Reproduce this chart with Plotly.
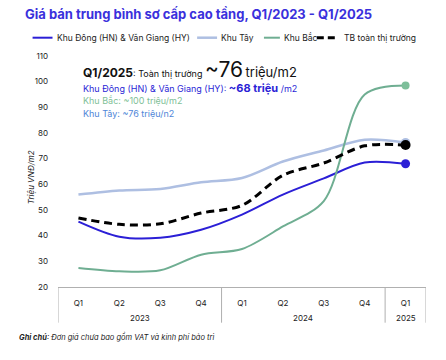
import plotly.graph_objects as go

years = ["2023"] * 4 + ["2024"] * 4 + ["2025"]
quarters = ["Q1", "Q2", "Q3", "Q4", "Q1", "Q2", "Q3", "Q4", "Q1"]
periods = [f"{q}/{y}" for q, y in zip(quarters, years)]

khu_dong = [45.5, 39.6, 39.2, 42.3, 48.2, 56.0, 62.3, 68.5, 68.0]
khu_tay = [56.0, 57.6, 58.2, 60.8, 62.5, 68.9, 73.2, 77.4, 76.3]
khu_bac = [27.4, 26.1, 26.5, 32.6, 34.8, 43.6, 53.5, 95.0, 98.5]
tb_toan = [46.9, 44.4, 44.6, 48.8, 51.8, 63.5, 68.3, 75.0, 75.3]

series = [
    ("Khu Đông (HN) & Văn Giang (HY)", khu_dong, "#2b1fd6", 2, "solid"),
    ("Khu Tây", khu_tay, "#aebfe2", 2.5, "solid"),
    ("Khu Bắc", khu_bac, "#6fae92", 2, "solid"),
    ("TB toàn thị trường", tb_toan, "#000000", 3, "8px,5px"),
]

FONT = "Inter"
W, H = 446, 360
L, R, T, B = 57.5, 426.5, 56.3, 287.3

def px(x):
    return (x - L) / (R - L)

def py(y):
    return (B - y) / (B - T)

fig = go.Figure()
for name, vals, color, width, dash in series:
    fig.add_trace(go.Scatter(
        x=periods, y=vals, mode="lines", name=name, showlegend=False,
        line=dict(color=color, width=width, dash=dash, shape="spline", smoothing=0.9),
    ))
marker_colors = ["#2b1fd6", "#aebfe2", "#7dbf9a", "#000000"]
marker_sizes = [9, 9, 8, 10]
for (name, vals, color, width, dash), mc, ms in zip(series, marker_colors, marker_sizes):
    fig.add_trace(go.Scatter(
        x=[periods[-1]], y=[vals[-1]], mode="markers",
        marker=dict(color=mc, size=ms), showlegend=False, hoverinfo="skip",
    ))

anns = []
shapes = []

# manual legend
legend_items = [
    (32, 52, 54, series[0][0], "#2b1fd6", 2, "solid"),
    (197, 217, 219, series[1][0], "#aebfe2", 2.5, "solid"),
    (264, 280, 282, series[2][0], "#6fae92", 2, "solid"),
    (317, 337, 342, series[3][0], "#000000", 3, "7px,4px"),
]
for x0, x1, tx, label, color, width, dash in legend_items:
    shapes.append(dict(type="line", xref="paper", yref="paper",
                       x0=px(x0), x1=px(x1), y0=py(38), y1=py(38),
                       line=dict(color=color, width=width, dash=dash)))
    anns.append(dict(x=px(tx), y=py(38), xref="paper", yref="paper",
                     xanchor="left", yanchor="middle", showarrow=False,
                     font=dict(family=FONT, size=8.5, color="#222222"),
                     text=label.replace("&", "&amp;")))

# category table: group dividers and year labels
groups = []
for i, yr in enumerate(years):
    if not groups or groups[-1][0] != yr:
        groups.append([yr, i, i])
    else:
        groups[-1][2] = i
bounds = sorted({g[1] - 0.5 for g in groups} | {g[2] + 0.5 for g in groups})
for b in bounds:
    shapes.append(dict(type="line", xref="x", yref="paper",
                       x0=b, x1=b, y0=py(288), y1=py(323),
                       line=dict(color="#b0b0b0", width=1)))
for yr, i0, i1 in groups:
    anns.append(dict(x=(i0 + i1) / 2, y=py(318.5), xref="x", yref="paper",
                     xanchor="center", yanchor="middle", showarrow=False,
                     font=dict(family=FONT, size=8, color="#222222"), text=yr))

anns.append(dict(
    x=px(81), y=py(70), xref="paper", yref="paper", xanchor="left", yanchor="middle",
    showarrow=False, font=dict(family=FONT, color="#111111", size=9),
    text="<b><span style='font-size:12px'>Q1/2025</span></b>: Toàn thị trường "
         "<span style='font-size:21px'>~76</span> <span style='font-size:13px'>triệu/m2</span>",
))
anns.append(dict(
    x=px(81), y=py(88), xref="paper", yref="paper", xanchor="left", yanchor="middle",
    showarrow=False, font=dict(family=FONT, color="#2b1fd6", size=9),
    text="Khu Đông (HN) &amp; Văn Giang (HY): <b><span style='font-size:11px'>~68 triệu</span></b> /m2",
))
anns.append(dict(
    x=px(81), y=py(101), xref="paper", yref="paper", xanchor="left", yanchor="middle",
    showarrow=False, font=dict(family=FONT, color="#7fbf98", size=9),
    text="Khu Bắc: ~100 triệu/m2",
))
anns.append(dict(
    x=px(81), y=py(114), xref="paper", yref="paper", xanchor="left", yanchor="middle",
    showarrow=False, font=dict(family=FONT, color="#4f86d8", size=9),
    text="Khu Tây: ~76 triệu/n2",
))
anns.append(dict(
    x=px(30), y=py(178), xref="paper", yref="paper", xanchor="center", yanchor="middle",
    showarrow=False, textangle=-90, font=dict(family=FONT, color="#222222", size=8),
    text="<i>Triệu VNĐ/m2</i>",
))
anns.append(dict(
    x=px(16), y=py(337), xref="paper", yref="paper", xanchor="left", yanchor="middle",
    showarrow=False, font=dict(family=FONT, color="#222222", size=7.5),
    text="<i><b>Ghi chú</b>: Đơn giá chưa bao gồm VAT và kinh phí bảo trì</i>",
))

fig.update_layout(
    width=W, height=H,
    margin=dict(l=L, r=W - R, t=T, b=H - B, pad=0, autoexpand=False),
    paper_bgcolor="white", plot_bgcolor="white",
    font=dict(family=FONT, color="#222222"),
    title=dict(
        text="<b>Giá bán trung bình sơ cấp cao tầng, Q1/2023 - Q1/2025</b>",
        x=25 / W, xref="container", xanchor="left", y=1 - 14 / H, yref="container", yanchor="middle",
        pad=dict(l=0, r=0, t=0, b=0),
        font=dict(family=FONT, size=13, color="#3a30dc"),
    ),
    annotations=anns,
    shapes=shapes,
    showlegend=False,
)
fig.update_yaxes(
    range=[20, 110], dtick=10, showgrid=False, zeroline=False, showline=False,
    tickfont=dict(family=FONT, size=8, color="#222222"), ticks="", ticklabelstandoff=9,
)
fig.update_xaxes(
    type="category", range=[-0.5, len(periods) - 0.5], autorange=False,
    tickmode="array", tickvals=periods, ticktext=quarters,
    showgrid=False, showline=True, linecolor="#b0b0b0", linewidth=1,
    tickfont=dict(family=FONT, size=8, color="#222222"), ticks="", ticklabelstandoff=8,
)

fig.write_html(
    "out.html",
    config={"displayModeBar": False},
    post_script="document.body.style.margin='0';document.body.style.overflow='hidden';",
)
